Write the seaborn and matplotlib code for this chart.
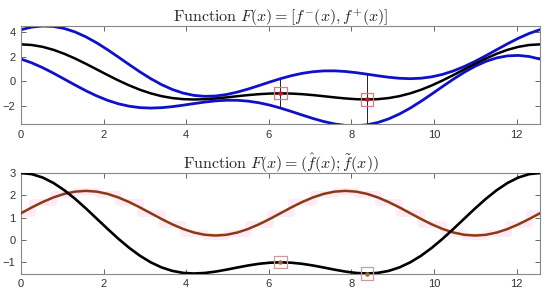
import numpy as np
import matplotlib
matplotlib.use("Agg")
import matplotlib.pyplot as plt
import seaborn as sns

# sample positions: k*pi/12, k = 0..48
x_vals = [k * np.pi / 12 for k in range(49)]

# midpoint function f_hat(x)
f_hat = [3.000, 2.949, 2.798, 2.555, 2.232, 1.846, 1.414, 0.959, 0.500, 0.058,
         -0.348, -0.705, -1.000, -1.227, -1.384, -1.472, -1.500, -1.476, -1.414,
         -1.328, -1.232, -1.141, -1.066, -1.017, -1.000, -1.017, -1.066, -1.141,
         -1.232, -1.328, -1.414, -1.476, -1.500, -1.472, -1.384, -1.227, -1.000,
         -0.705, -0.348, 0.058, 0.500, 0.959, 1.414, 1.846, 2.232, 2.555, 2.798,
         2.949, 3.000]

# radius function f_tilde(x)
f_tilde = [1.200, 1.459, 1.700, 1.907, 2.066, 2.166, 2.200, 2.166, 2.066, 1.907,
           1.700, 1.459, 1.200, 0.941, 0.700, 0.493, 0.334, 0.234, 0.200, 0.234,
           0.334, 0.493, 0.700, 0.941, 1.200, 1.459, 1.700, 1.907, 2.066, 2.166,
           2.200, 2.166, 2.066, 1.907, 1.700, 1.459, 1.200, 0.941, 0.700, 0.493,
           0.334, 0.234, 0.200, 0.234, 0.334, 0.493, 0.700, 0.941, 1.200]

# upper bound f+(x)
f_plus = [4.200, 4.408, 4.498, 4.462, 4.298, 4.012, 3.614, 3.125, 2.566, 1.965,
          1.352, 0.754, 0.200, -0.286, -0.684, -0.979, -1.166, -1.242, -1.214,
          -1.094, -0.898, -0.648, -0.366, -0.076, 0.200, 0.442, 0.634, 0.766,
          0.834, 0.838, 0.786, 0.690, 0.566, 0.435, 0.316, 0.232, 0.200, 0.236,
          0.352, 0.551, 0.834, 1.193, 1.614, 2.080, 2.566, 3.048, 3.498, 3.890,
          4.200]

# lower bound f-(x)
f_minus = [1.800, 1.490, 1.098, 0.648, 0.166, -0.320, -0.786, -1.207, -1.566,
           -1.849, -2.048, -2.164, -2.200, -2.168, -2.084, -1.965, -1.834, -1.710,
           -1.614, -1.562, -1.566, -1.634, -1.766, -1.958, -2.200, -2.476, -2.766,
           -3.048, -3.298, -3.494, -3.614, -3.642, -3.566, -3.379, -3.084, -2.686,
           -2.200, -1.646, -1.048, -0.435, 0.166, 0.725, 1.214, 1.612, 1.898,
           2.062, 2.098, 2.008, 1.800]

# marked points
mark_x = [6.283, 8.378]
mark_y = [-1.000, -1.500]
mark_lo = [-2.200, -3.566]
mark_hi = [0.200, 0.566]

x_ticks = [0, 2, 4, 6, 8, 10, 12]
top_yticks = [-2, 0, 2, 4]
bot_yticks = [-1, 0, 1, 2, 3]

sns.set_theme(style="white")
plt.rcParams["font.family"] = ["Liberation Sans", "DejaVu Sans"]
plt.rcParams["mathtext.fontset"] = "cm"

fig = plt.figure(figsize=(5.5, 2.96), dpi=100)
ax1 = fig.add_axes([0.0382, 0.5811, 0.9436, 0.3311])
ax2 = fig.add_axes([0.0382, 0.0760, 0.9436, 0.3395])

blue = "#1010c8"
sq_col = "#e07a7a"

# --- top panel ---
sns.lineplot(x=x_vals, y=f_plus, ax=ax1, color=blue, lw=2.0, estimator=None, sort=False)
sns.lineplot(x=x_vals, y=f_minus, ax=ax1, color=blue, lw=2.0, estimator=None, sort=False)
sns.lineplot(x=x_vals, y=f_hat, ax=ax1, color="black", lw=1.8, estimator=None, sort=False)
ax1.vlines(mark_x, mark_lo, mark_hi, color="#222222", lw=0.7, zorder=3)
ax1.scatter(mark_x, mark_y, marker="s", s=75, facecolors="none", edgecolors=sq_col,
            linewidths=0.9, zorder=5)
ax1.scatter(mark_x, mark_y, marker="o", s=5, color="#e01010", zorder=6)
ax1.set_ylim(-3.5, 4.5)
ax1.set_yticks(top_yticks)
ax1.set_title(r"$\mathrm{Function}\ F(x) = [f^{-}(x), f^{+}(x)]$", fontsize=11.5, pad=3)

# --- bottom panel ---
x_step = x_vals[::2]
ft_step = f_tilde[::2]
ax2.plot(x_step, ft_step, drawstyle="steps-mid", color="#ffeaf8", lw=5, zorder=1,
         solid_capstyle="butt")
sns.lineplot(x=x_vals, y=f_tilde, ax=ax2, color="#8b3a12", lw=1.8, estimator=None,
             sort=False, zorder=3)
sns.lineplot(x=x_vals, y=f_hat, ax=ax2, color="black", lw=1.9, estimator=None,
             sort=False, zorder=4)
ax2.scatter(mark_x, mark_y, marker="s", s=75, facecolors="none", edgecolors="#d09a9a",
            linewidths=0.9, zorder=5, clip_on=False)
ax2.scatter(mark_x, mark_y, marker="o", s=5, color="#a06a30", zorder=6, clip_on=False)
ax2.set_ylim(-1.5, 3.0)
ax2.set_yticks(bot_yticks)
ax2.set_title(r"$\mathrm{Function}\ F(x) = (\hat{f}(x); \tilde{f}(x))$", fontsize=11.5, pad=3)

for ax in (ax1, ax2):
    ax.set_xlim(0, 4 * np.pi)
    ax.set_xticks(x_ticks)
    ax.set_ylabel("")
    ax.set_xlabel("")
    ax.tick_params(direction="in", length=3.5, width=0.7, color="#666666",
                   labelsize=8, labelcolor="#333333", top=True, right=True,
                   bottom=True, left=True, pad=4)
    for s in ax.spines.values():
        s.set_color("#888888")
        s.set_linewidth(0.8)
    ax.grid(False)
    ax.set_facecolor("white")

fig.savefig("out.png", dpi=100)
